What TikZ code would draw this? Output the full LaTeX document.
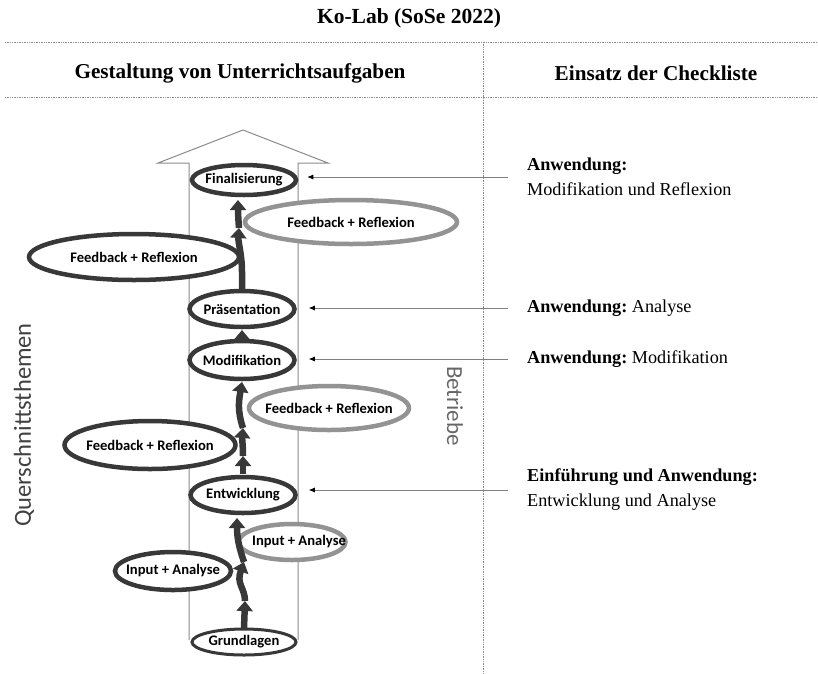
\documentclass[tikz,border=0pt]{standalone}
\usepackage{fontspec}
\setmainfont{Liberation Serif}
\newfontfamily\carl{Carlito}
\usetikzlibrary{shapes.geometric,arrows.meta}
\definecolor{dk}{HTML}{383838}
\definecolor{lt}{HTML}{939393}
\definecolor{framec}{HTML}{8A8A8A}
\definecolor{sep}{HTML}{8C8C8C}
\begin{document}
\frenchspacing
\begin{tikzpicture}[x=1pt,y=-1pt,
  ellfont/.style={font=\carl\bfseries\fontsize{14.6}{16}\selectfont, inner sep=0pt},
  dkell/.style={ellipse, draw=dk, line width=4.5pt, fill=white, inner sep=0pt, label={[ellfont]center:#1}},
  ltell/.style={ellipse, draw=lt, line width=4.5pt, fill=white, inner sep=0pt, label={[ellfont]center:#1}},
  ltellr/.style={ellipse, draw=lt, line width=4.5pt, fill=white, inner sep=0pt, label={[ellfont,xshift=7pt]center:#1}},
  flow/.style={draw=dk, line width=6.5pt, -{Triangle[length=10pt,width=16pt]}},
  pointer/.style={draw=gray, line width=0.8pt, -{Latex[length=6pt,width=5pt,color=black]}},
  seprule/.style={draw=sep, densely dotted, line width=0.7pt},
  rtext/.style={anchor=west, align=left, inner sep=0pt, font=\fontsize{18.2}{25}\selectfont},
  headfont/.style={font=\bfseries\fontsize{21.2}{24}\selectfont},
]
\useasboundingbox (0,0) rectangle (818,673);

% titles
\node[font=\bfseries\fontsize{21.5}{24}\selectfont] (title) at (409,18) {Ko-Lab (SoSe 2022)};
\node[headfont] (h1) at (240,73) {Gestaltung von Unterrichtsaufgaben};
\node[headfont] (h2) at (656,73) {Einsatz der Checkliste};
\draw[seprule] (5,42) -- (818,42);
\draw[seprule] (5,97) -- (818,97);
\draw[seprule] (483,42) -- (483,673);

% frame arrow
\draw[framec, line width=1pt] (189,640) -- (189,163) -- (158,163) -- (243,130) -- (328,163) -- (298,163) -- (298,640);

% side ellipses
\node[ltell={Feedback + Reflexion}, minimum width=212pt, minimum height=44pt] (fr1) at (351,222) {};
\node[dkell={Feedback + Reflexion}, minimum width=210pt, minimum height=46pt] (fl1) at (134,257) {};
\node[ltell={Feedback + Reflexion}, minimum width=160pt, minimum height=44pt] (fr2) at (329,408) {};
\node[dkell={Feedback + Reflexion}, minimum width=171pt, minimum height=48pt] (fl2) at (150,445) {};
\node[ltellr={Input + Analyse}, minimum width=107pt, minimum height=36pt] (ir) at (292,542) {};
\node[dkell={Input + Analyse}, minimum width=116pt, minimum height=38pt] (il) at (173,571) {};

% flow
\coordinate (a1) at (245,601);
\coordinate (a2) at (244,562);
\coordinate (b1) at (243,456);
\coordinate (b2) at (243,428);
\coordinate (d1) at (239,228);
\draw[flow] (244,628) -- (a1);
\draw[flow] (a1) .. controls (245,588) and (236,584) .. (a2);
\draw[flow] (a2) .. controls (240,550) and (237,540) .. (237,518);
\draw[flow] (243,474) -- (b1);
\draw[flow] (b1) .. controls (243,445) and (242,440) .. (b2);
\draw[flow] (b2) .. controls (237,410) and (239,400) .. (242,382);
\draw[flow] (242,340) -- (242,330);
\draw[flow] (242,290) -- (242,272) .. controls (242,255) and (238,242) .. (d1);
\draw[flow] (d1) .. controls (238,215) and (238,210) .. (238,200);

% central ellipses
\node[dkell={Finalisierung}, minimum width=104pt, minimum height=30pt] (F) at (244,180) {};
\node[dkell={Präsentation}, minimum width=105pt, minimum height=36pt] (P) at (242,309) {};
\node[dkell={Modifikation}, minimum width=105pt, minimum height=38pt] (M) at (242,360) {};
\node[dkell={Entwicklung}, minimum width=105pt, minimum height=36pt] (E) at (243,495) {};
\node[dkell={Grundlagen}, line width=3pt, minimum width=104pt, minimum height=26pt] (G) at (244,642) {};

% right texts and pointers
\node[rtext] (t1) at (527,177) {\textbf{Anwendung:}\\Modifikation und Reflexion};
\node[rtext] (t2) at (527,308) {\textbf{Anwendung:} Analyse};
\node[rtext] (t3) at (527,359) {\textbf{Anwendung:} Modifikation};
\node[rtext] (t4) at (527,490) {\textbf{Einführung und Anwendung:}\\Entwicklung und Analyse};
\draw[pointer, shorten >=9pt] ([xshift=-19pt]t1.west) -- (t1.west -| F.east);
\draw[pointer, shorten >=12pt] ([xshift=-19pt]t2.west) -- (t2.west -| P.east);
\draw[pointer, shorten >=12pt] ([xshift=-19pt]t3.west) -- (t3.west -| M.east);
\draw[pointer, shorten >=11pt] ([xshift=-19pt]t4.west) -- (t4.west -| E.east);

% rotated labels
\node[rotate=90, text=black!75, font=\carl\fontsize{24.5}{26}\selectfont] (q) at (24,425) {Querschnittsthemen};
\node[rotate=-90, text=black!60, font=\carl\fontsize{23}{24}\selectfont] (b) at (455,406) {Betriebe};
\end{tikzpicture}
\end{document}
